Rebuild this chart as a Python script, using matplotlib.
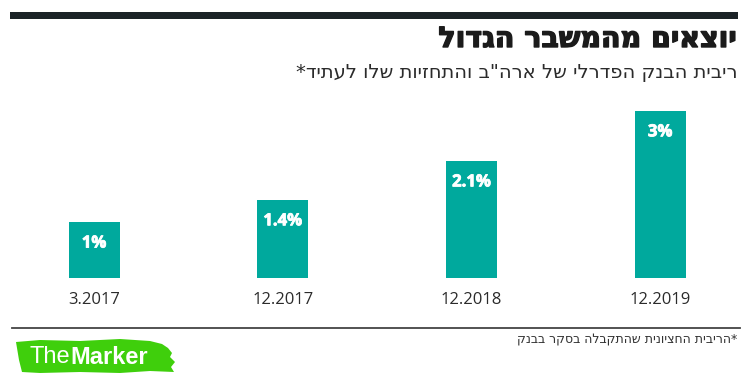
import matplotlib
matplotlib.use("Agg")
import matplotlib.pyplot as plt
import matplotlib.patheffects as pe
from matplotlib.patches import Polygon, Rectangle

## DATA ##
periods = ["3.2017", "12.2017", "12.2018", "12.2019"]
rates = [1.0, 1.4, 2.1, 3.0]
rate_labels = ["1%", "1.4%", "2.1%", "3%"]

title = "יוצאים מהמשבר הגדול"
subtitle = "ריבית הבנק הפדרלי של ארה\"ב והתחזיות שלו לעתיד*"
footnote = "*הריבית החציונית שהתקבלה בסקר בבנק"

## STYLE ##
W, H = 748, 383
teal = "#00a99d"
hebrew_fonts = ["DejaVu Sans Condensed", "DejaVu Sans"]
num_fonts = ["Open Sans", "DejaVu Sans"]


def rtl(s):
    # matplotlib lays text out left to right, so flip Hebrew for display
    return s[::-1]


def fx(px):
    return px / W


def fy(py):
    return 1 - py / H


fig = plt.figure(figsize=(W / 100, H / 100), dpi=100)
fig.patch.set_facecolor("white")

# bars axes: baseline at y=278px, 55.6 px per percent, bar centres 188.7px apart
base_px, top_px = 278, 100
ax = fig.add_axes([0, fy(base_px), 1, (base_px - top_px) / H])
ax.set_xlim((0 - 94) / 188.7, (W - 94) / 188.7)
ax.set_ylim(0, (base_px - top_px) / 55.6)
ax.axis("off")

xs = list(range(len(periods)))
ax.bar(xs, rates, width=51 / 188.7, color=teal, linewidth=0)
for x, v, lab, per in zip(xs, rates, rate_labels, periods):
    ax.annotate(lab, xy=(x, v), xytext=(0, -14.5), textcoords="offset points",
                ha="center", va="center", color="white", fontsize=12,
                fontweight="bold", family=num_fonts,
                path_effects=[pe.withStroke(linewidth=0.6, foreground="white")])
    ax.annotate(per, xy=(x, 0), xytext=(0, -15.5), textcoords="offset points",
                ha="center", va="center", color="#2b2b2b", fontsize=12,
                family=num_fonts)

# header bar
fig.patches.append(Rectangle((fx(10), fy(19)), fx(738) - fx(10), (19 - 12.5) / H,
                             transform=fig.transFigure, color="#1b2327", lw=0))
fig.text(fx(737), fy(39), rtl(title), ha="right", va="center", fontsize=20.5,
         fontweight="bold", color="#1b1b1b", family=hebrew_fonts,
         path_effects=[pe.withStroke(linewidth=1.0, foreground="#1b1b1b")])
fig.text(fx(737), fy(72), rtl(subtitle), ha="right", va="center", fontsize=14,
         color="#2b2b2b", family=hebrew_fonts)

# bottom rule + footnote
fig.lines.append(plt.Line2D([fx(12), fx(740)], [fy(327.5), fy(327.5)],
                            transform=fig.transFigure, color="#444444", lw=1.3))
fig.text(fx(737), fy(340), rtl(footnote), ha="right", va="center", fontsize=9,
         color="#333333", family=hebrew_fonts)

# TheMarker logo (green brush stroke)
brush = [(16, 342), (40, 340), (80, 341), (120, 339), (150, 341), (162, 344),
         (168, 348), (172, 353), (170, 357), (175, 362), (171, 367), (174, 372),
         (150, 371), (120, 373), (80, 372), (40, 373), (22, 372), (19, 360)]
fig.patches.append(Polygon([(fx(a), fy(b)) for a, b in brush], closed=True,
                           transform=fig.transFigure, color="#3fcf0c", lw=0))
t1 = fig.text(fx(30), fy(357), "The", ha="left", va="center", fontsize=17,
              color="white", family=["Liberation Sans Narrow", "Liberation Sans"])
fig.canvas.draw()
bb = t1.get_window_extent()
fig.text(bb.x1 / W, fy(357), "Marker", ha="left", va="center", fontsize=17,
         fontweight="bold", color="white",
         family=["Liberation Sans Narrow", "Liberation Sans"])

fig.savefig("out.png", dpi=100)
